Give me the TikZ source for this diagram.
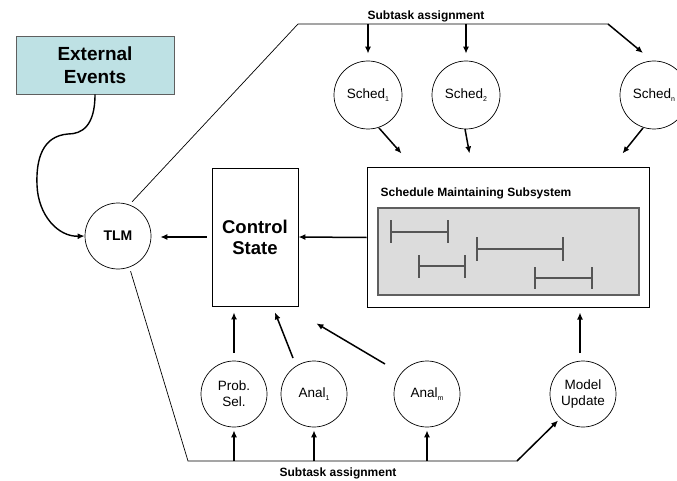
\documentclass[tikz,border=0pt]{standalone}
\usepackage{fontspec}
\setmainfont{Liberation Sans}
\usetikzlibrary{arrows.meta,calc}
\definecolor{extfill}{RGB}{190,225,228}
\definecolor{gboxfill}{RGB}{220,220,220}
\definecolor{gboxline}{RGB}{95,95,95}
\definecolor{barline}{RGB}{85,85,85}
\newcommand{\mysub}[1]{\raisebox{-0.35ex}{\fontsize{7}{8}\selectfont #1}}
\begin{document}
\begin{tikzpicture}[x=1pt,y=-1pt,
  thinline/.style={line width=0.7pt},
  arr/.style={line width=1.5pt,-{Latex[length=7pt,width=6pt]}},
  circ/.style={circle,draw,line width=0.7pt,minimum size=66pt,inner sep=0pt,align=center,
    font=\fontsize{13.5}{16}\selectfont},
  lbl/.style={font=\bfseries\fontsize{12}{14}\selectfont,inner sep=0pt},
  bar/.style={line width=1.4pt,draw=barline}]
\useasboundingbox (0,0) rectangle (677,481);

% nodes
\node[draw=gboxline,line width=0.9pt,fill=extfill,minimum width=158pt,minimum height=58pt,inner sep=0pt,
  align=center,font=\bfseries\fontsize{19}{23}\selectfont] (ext) at (95,65) {External\\Events};
\node[circ,font=\bfseries\fontsize{14}{16}\selectfont] (tlm) at (118,236) {TLM};
\node[draw,line width=0.8pt,minimum width=86pt,minimum height=138pt,inner sep=0pt,align=center,
  font=\bfseries\fontsize{18.5}{21}\selectfont] (cs) at (255,237) {Control\\State};
\node[draw,line width=1pt,minimum width=282pt,minimum height=139pt,inner sep=0pt] (sms) at (508,237.5) {};
\node[lbl] (smst) at (476,193) {Schedule Maintaining Subsystem};
\node[circ,minimum size=68pt] (s1) at (368,95) {Sched\mysub{1}};
\node[circ,minimum size=68pt] (s2) at (466,95) {Sched\mysub{2}};
\node[circ,minimum size=68pt] (sn) at (654,95) {Sched\mysub{n}};
\node[circ] (ps) at (234,394) {Prob.\\Sel.};
\node[circ] (a1) at (314,394) {Anal\mysub{1}};
\node[circ] (am) at (427,394) {Anal\mysub{m}};
\node[circ] (mu) at (583,394) {Model\\Update};
\node[lbl] (toplbl) at (426,16) {Subtask assignment};
\node[lbl] (botlbl) at (338,473) {Subtask assignment};

% gantt panel
\draw[draw=gboxline,line width=1.6pt,fill=gboxfill] (378,208) rectangle (639,295);
\draw[bar] (391,232) -- (448,232);
\draw[bar] (391,220) -- (391,243); \draw[bar] (448,220) -- (448,243);
\draw[bar] (477,249) -- (563,249);
\draw[bar] (477,237) -- (477,261); \draw[bar] (563,237) -- (563,261);
\draw[bar] (419,266) -- (465,266);
\draw[bar] (419,255) -- (419,278); \draw[bar] (465,255) -- (465,278);
\draw[bar] (535,278) -- (592,278);
\draw[bar] (535,267) -- (535,289); \draw[bar] (592,267) -- (592,289);

% corner coordinates
\coordinate (tc1) at (298,24);
\coordinate (tc2) at (608,24);
\coordinate (bc1) at (188,461);
\coordinate (bc2) at (517,461);

% external events to TLM
\draw[line width=1.4pt,-{Latex[length=7pt,width=6pt]}] (ext.south) .. controls (95,126) and (82,134) .. (68,134)
  .. controls (42,136) and (36,160) .. (37,185) .. controls (38,215) and (58,237) .. (tlm.west);

% top subtask assignment bus
\draw[thinline,shorten <=4pt] (tlm.70) -- (tc1) -- (tc2);
\draw[arr,shorten >=7pt] (s1 |- tc1) -- (s1.north);
\draw[arr,shorten >=7pt] (s2 |- tc1) -- (s2.north);
\draw[arr] (tc2) -- ($(sn.center)+(-11,-42)$);

% sched to SMS
\draw[arr] ($(s1.center)+(11,33)$) -- ($(sms.north west)+(35,-14)$);
\draw[arr] ($(s2.center)+(-1,34)$) -- ($(sms.north west)+(103,-14)$);
\draw[arr] ($(sn.center)+(-11,33)$) -- ($(sms.north east)+(-27,-14)$);

% SMS -> control state -> TLM
\draw[arr] (sms.west) -- (cs.east);
\draw[arr,shorten <=5pt,shorten >=9pt] (cs.west) -- (cs.west -| tlm.east);

% bottom subtask assignment bus
\draw[thinline,shorten <=4pt] (tlm.-70) -- (bc1) -- (bc2);
\draw[arr,shorten >=3pt] (bc2) -- (mu.227);
\draw[arr,shorten >=3pt] (ps |- bc1) -- (ps.south);
\draw[arr,shorten >=3pt] (a1 |- bc1) -- (a1.south);
\draw[arr,shorten >=3pt] (am |- bc1) -- (am.south);

% up to control state / SMS
\draw[arr,shorten <=8pt,shorten >=6pt] (ps.north) -- (ps.north |- cs.south);
\draw[arr] ($(a1.center)+(-21,-36)$) -- ($(cs.south)+(20,6)$);
\draw[arr] ($(am.center)+(-42,-30)$) -- ($(cs.south east)+(18,17)$);
\draw[arr] ($(mu.center)+(-3,-41)$) -- ($(mu.center |- sms.south)+(-3,5)$);
\end{tikzpicture}
\end{document}
